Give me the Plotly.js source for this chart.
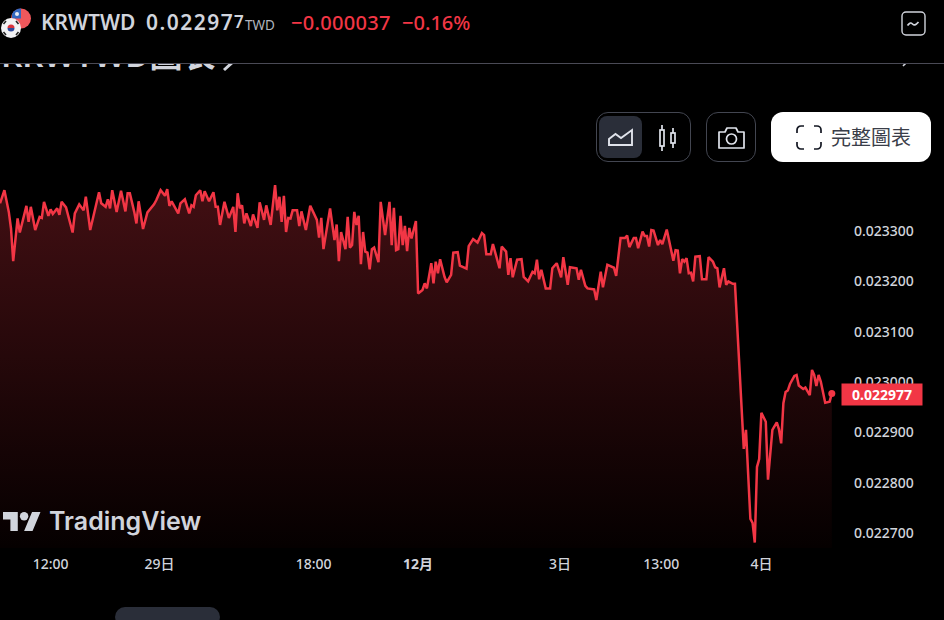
<!DOCTYPE html>
<html>
<head>
<meta charset="utf-8">
<script src="https://cdn.plot.ly/plotly-3.0.1.min.js"></script>
<style>
  html, body { margin: 0; background: #000; width: 944px; height: 620px; overflow: hidden; font-family: "Noto Sans", "Noto Sans CJK TC", sans-serif; }
  #chart { position: absolute; left: 0; top: 0; width: 944px; height: 620px; }
  .abs { position: absolute; white-space: nowrap; }
  .box { position: absolute; box-sizing: border-box; border: 1px solid #434651; border-radius: 12px; top: 112px; height: 50px; }
  svg { position: absolute; overflow: visible; }
</style>
</head>
<body>
<div id="chart"></div>

<div class="abs" style="left:0;top:0;width:944px;height:63px;background:#000"></div>
<div class="abs" style="left:0;top:63px;width:944px;height:1px;background:#4a4a55"></div>
<div class="abs" style="left:0;top:64px;width:944px;height:10px;overflow:hidden;background:#000">
  <div class="abs" style="left:1px;top:-32px;font-size:33px;line-height:45px;font-weight:600;color:#d1d4dc;font-family:'Noto Sans','Noto Sans CJK TC'">KRWTWD圖表</div>
  <svg style="left:222px;top:-10px" width="14" height="20" viewBox="0 0 14 20" fill="none" stroke="#d1d4dc" stroke-width="3"><path d="M2 0l10 7-10 9"/></svg>
  <svg style="left:902px;top:-6px" width="8" height="10" viewBox="0 0 8 10" fill="none" stroke="#d1d4dc" stroke-width="1.6"><path d="M1 0l4 4-4 4"/></svg>
</div>

<svg style="left:0;top:7px" width="32" height="32" viewBox="0 0 32 32">
  <circle cx="21" cy="11.5" r="10" fill="#f0585c"/>
  <path d="M21 1.5a10 10 0 0 0-9 5.5v4.5h9z" fill="#3468c0"/>
  <circle cx="17" cy="7" r="2" fill="#e8ecf5"/>
  <circle cx="11" cy="21" r="10" fill="#f2f2f4"/>
  <path d="M7.5 21a3.5 3.5 0 0 1 7 0z" fill="#d8323c"/>
  <path d="M7.5 21a3.5 3.5 0 0 0 7 0z" fill="#2d4a9a"/>
  <path d="M3.5 17l2.5-3M16 14l2.5 3M3.5 25l2.5 3M16 28l2.5-3" stroke="#222" stroke-width="1.6"/>
</svg>
<div class="abs" style="left:41px;top:8px;font-size:21px;font-weight:600;color:#d1d4dc">KRWTWD</div>
<div class="abs" style="left:146px;top:8px;font-size:21px;font-weight:600;letter-spacing:1.5px;color:#d1d4dc">0.02297</div>
<div class="abs" style="left:234px;top:10px;font-size:17px;font-weight:600;color:#d1d4dc">7</div>
<div class="abs" style="left:245px;top:16px;font-size:13.5px;color:#b2b5be">TWD</div>
<div class="abs" style="left:291px;top:9px;font-size:20px;font-weight:500;letter-spacing:.3px;color:#f23645">−0.000037</div>
<div class="abs" style="left:402px;top:9px;font-size:20px;font-weight:500;color:#f23645">−0.16%</div>

<svg style="left:901px;top:11px" width="26" height="26" viewBox="0 0 26 26" fill="none" stroke="#d1d4dc">
  <rect x="1" y="1" width="23" height="23" rx="4" stroke-width="1.4"/>
  <path d="M6.5 14.5c2-3 3.5-3 5-1.5s3 1.5 6-2" stroke-width="1.7"/>
</svg>

<div class="box" style="left:596px;width:95px"></div>
<div class="abs" style="left:599px;top:116px;width:43px;height:42px;border-radius:8px;background:#2a2e39"></div>
<svg style="left:608px;top:129px" width="26" height="18" viewBox="0 0 26 18" fill="none" stroke="#e0e3eb" stroke-width="1.9">
  <path d="M1 16v-6l6.5-5 5.5 4 11-8v15z"/>
</svg>
<svg style="left:658px;top:125px" width="20" height="26" viewBox="0 0 20 26" fill="none" stroke="#e0e3eb" stroke-width="1.7">
  <rect x="2" y="5" width="4" height="16"/><path d="M4 0v5M4 21v5"/>
  <rect x="13" y="8" width="4" height="10"/><path d="M15 3v5M15 18v5"/>
</svg>

<div class="box" style="left:706px;width:50px"></div>
<svg style="left:717px;top:126px" width="29" height="24" viewBox="0 0 29 24" fill="none" stroke="#e0e3eb" stroke-width="1.7">
  <path d="M2 6h6l2-4h9l2 4h6v16H2z" stroke-linejoin="round"/><circle cx="14.5" cy="13" r="5"/>
</svg>

<div class="abs" style="left:771px;top:112px;width:160px;height:50px;border-radius:12px;background:#fff"></div>
<svg style="left:796px;top:125px" width="26" height="25" viewBox="0 0 26 25" fill="none" stroke="#131722" stroke-width="1.7">
  <path d="M8 1H5a4 4 0 0 0-4 4v3M18 1h3a4 4 0 0 1 4 4v3M8 24H5a4 4 0 0 1-4-4v-3M18 24h3a4 4 0 0 0 4-4v-3"/>
</svg>
<div class="abs" style="left:831px;top:122px;font-size:20px;line-height:29px;color:#3a3e49;font-family:'Noto Sans CJK TC'">完整圖表</div>

<svg style="left:3px;top:511px" width="38" height="21" viewBox="0 3.5 36 19" fill="#d1d4dc">
  <path d="M14 22H7V11H0V4h14v18zM28 22h-8l7.5-18h8L28 22z"/><circle cx="20" cy="8" r="4"/>
</svg>
<div class="abs" style="left:49px;top:506px;font-size:25px;font-weight:600;color:#d1d4dc;font-family:Inter,'Noto Sans'">TradingView</div>

<div class="abs" style="left:115px;top:607px;width:105px;height:20px;border-radius:14px;background:#2a2e39"></div>

<script>
// bar number (15 minute bars, market-closed gaps removed) of each turning point
const bars = [
  0, 2, 4, 5, 6, 8, 9, 12, 13, 14, 16, 18, 19, 20, 22, 23, 24, 26, 27, 28, 30, 31, 33, 34, 36, 38, 39, 41, 45, 46,
  48, 49, 50, 51, 53, 55, 57, 58, 59, 61, 62, 63, 65, 67, 70, 71, 73, 75, 76, 77, 78, 81, 82, 84, 86, 87, 88, 89, 91, 92,
  93, 95, 97, 98, 99, 100, 102, 104, 106, 107, 108, 109, 110, 111, 112, 114, 115, 117, 118, 120, 121, 123, 125, 126, 127, 128, 129, 130, 131, 132,
  133, 135, 136, 137, 139, 141, 144, 145, 146, 147, 150, 152, 153, 154, 155, 157, 158, 159, 160, 161, 162, 163, 164, 165, 166, 167, 168, 169, 170, 172,
  173, 175, 177, 178, 179, 180, 181, 182, 183, 184, 185, 186, 187, 189, 190, 192, 193, 194, 196, 197, 198, 199, 200, 202, 203, 205, 206, 208, 209, 212,
  213, 215, 217, 219, 220, 221, 223, 224, 225, 227, 228, 230, 231, 232, 233, 235, 237, 238, 240, 242, 243, 244, 245, 246, 248, 250, 251, 253, 255, 256,
  258, 259, 262, 263, 264, 266, 267, 270, 271, 273, 274, 276, 279, 280, 282, 284, 285, 286, 288, 289, 290, 292, 293, 294, 295, 296, 297, 299, 300, 301,
  303, 305, 306, 307, 308, 309, 310, 311, 312, 313, 314, 315, 316, 318, 319, 321, 322, 324, 325, 326, 327, 329, 330, 331, 333, 334,
  338, 339, 341, 342, 343, 344, 345, 346, 348, 349, 351, 353, 354, 355, 356, 357, 358, 359, 361, 362, 363, 365, 366, 368, 369, 370, 371, 372, 373, 375,
  377, 378
];
const prices = [
  .023355, .023381, .023338, .023305, .023240, .023325, .023297, .023350, .023318, .023348, .023302, .023328, .023326, .023358, .023330, .023343, .023334, .023345, .023332, .023358, .023347, .023332, .023297, .023335, .023353, .023341, .023368, .023302, .023377, .023355,
  .023348, .023363, .023345, .023381, .023338, .023380, .023339, .023375, .023375, .023338, .023315, .023359, .023304, .023337, .023353, .023361, .023381, .023370, .023383, .023350, .023359, .023335, .023355, .023363, .023335, .023351, .023348, .023371, .023381, .023359,
  .023379, .023359, .023377, .023348, .023348, .023312, .023358, .023326, .023348, .023298, .023375, .023345, .023351, .023315, .023335, .023310, .023333, .023306, .023357, .023322, .023351, .023312, .023391, .023341, .023368, .023318, .023370, .023298, .023326, .023325,
  .023341, .023341, .023310, .023339, .023302, .023350, .023322, .023287, .023326, .023264, .023345, .023282, .023313, .023240, .023298, .023264, .023328, .023267, .023272, .023338, .023312, .023330, .023234, .023298, .023259, .023257, .023224, .023264, .023267, .023238,
  .023358, .023292, .023358, .023272, .023346, .023262, .023264, .023330, .023272, .023310, .023260, .023306, .023285, .023320, .023176, .023183, .023196, .023186, .023236, .023196, .023239, .023216, .023244, .023209, .023198, .023213, .023257, .023258, .023231, .023225,
  .023270, .023284, .023277, .023296, .023292, .023254, .023254, .023274, .023259, .023226, .023269, .023259, .023213, .023246, .023208, .023243, .023244, .023209, .023200, .023219, .023216, .023243, .023204, .023223, .023186, .023186, .023226, .023236, .023208, .023248,
  .023193, .023228, .023226, .023203, .023223, .023191, .023186, .023184, .023163, .023219, .023188, .023233, .023227, .023211, .023286, .023286, .023291, .023268, .023286, .023286, .023266, .023299, .023290, .023290, .023269, .023302, .023301, .023272, .023282, .023274,
  .023303, .023259, .023241, .023262, .023261, .023216, .023244, .023239, .023246, .023216, .023217, .023200, .023249, .023250, .023204, .023204, .023248, .023239, .023228, .023226, .023188, .023226, .023193, .023200, .023195, .023195,
  .022867, .022905, .022728, .022720, .022681, .022831, .022847, .022939, .022921, .022806, .022905, .022920, .022906, .022878, .022958, .022980, .022983, .022996, .023012, .023014, .022993, .022986, .022989, .022974, .023024, .023014, .022992, .023014, .023001, .022959,
  .022961, .022977
];

const priceTicks = [0.0227, 0.0228, 0.0229, 0.023, 0.0231, 0.0232, 0.0233];
const timeTicks = [23, 72.5, 142.5, 190, 254.5, 300.5, 346];
const timeLabels = ["12:00", "29日", "18:00", "<b>12月</b>", "3日", "13:00", "4日"];
const lastPrice = "0.022977";

const RED = "#f23645";
const TEXT = "#d1d4dc";

Plotly.newPlot(
  "chart",
  [
    {
      type: "scatter",
      mode: "lines",
      x: bars,
      y: prices,
      line: { color: RED, width: 2.5, shape: "linear" },
      fill: "tozeroy",
      fillgradient: {
        type: "vertical",
        start: 0.02339,
        stop: 0.02267,
        colorscale: [
          [0, "rgb(66,15,19)"],
          [1, "rgb(5,0,0)"],
        ],
      },
      hoverinfo: "skip",
    },
    {
      type: "scatter",
      mode: "markers",
      x: bars.slice(-1),
      y: prices.slice(-1),
      marker: { color: RED, size: 7 },
      hoverinfo: "skip",
    },
  ],
  {
    width: 944,
    height: 620,
    paper_bgcolor: "#000",
    plot_bgcolor: "#000",
    margin: { t: 170, b: 72, l: 0, r: 99, pad: 0 },
    showlegend: false,
    font: { family: '"Noto Sans", "Noto Sans CJK TC", sans-serif', color: TEXT, size: 14 },
    xaxis: {
      range: [0, 384],
      tickmode: "array",
      tickvals: timeTicks,
      ticktext: timeLabels,
      showgrid: false,
      zeroline: false,
      showline: false,
      ticks: "",
      ticklabelstandoff: 6,
      tickfont: { size: 14, color: TEXT, weight: 500 },
    },
    yaxis: {
      side: "right",
      range: [0.0226702, 0.0234212],
      tickmode: "array",
      tickvals: priceTicks,
      tickformat: ".6f",
      showgrid: false,
      zeroline: false,
      showline: false,
      ticks: "",
      ticklabelstandoff: 8,
      tickfont: { size: 14, color: TEXT, weight: 500 },
    },
    annotations: [
      {
        xref: "paper",
        yref: "y",
        x: 1.0438,
        xanchor: "center",
        y: Number(lastPrice),
        yshift: -1,
        text: "<b>" + lastPrice + "</b>",
        showarrow: false,
        bgcolor: RED,
        width: 78,
        height: 19,
        font: { color: "#fff", size: 14 },
      },
    ],
  },
  { displayModeBar: false, staticPlot: true }
);
</script>
</body>
</html>
